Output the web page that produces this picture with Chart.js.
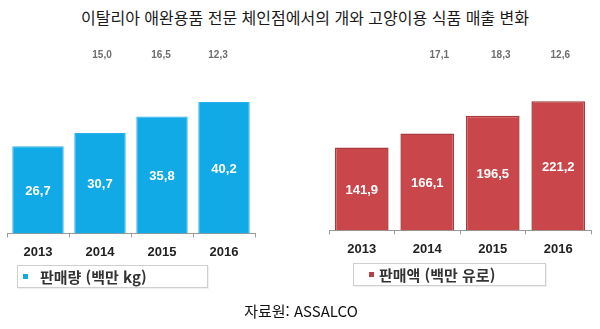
<!DOCTYPE html>
<html lang="ko">
<head>
<meta charset="utf-8">
<title>이탈리아 애완용품 전문 체인점에서의 개와 고양이용 식품 매출 변화</title>
<script src="https://cdn.jsdelivr.net/npm/chart.js@4/dist/chart.umd.min.js"></script>
<style>
  html, body { margin: 0; padding: 0; background: #fff; }
  #page { position: relative; width: 600px; height: 329px; overflow: hidden; background: #fff; }
  .title {
    position: absolute; left: 0; top: 6px; width: 610px; text-align: center;
    font: 16px "Noto Sans CJK KR", "Noto Sans", sans-serif; color: #1a1a1a; line-height: 22px;
  }
  .source {
    position: absolute; left: 0; top: 300px; width: 602px; text-align: center;
    font: 15px "Noto Sans CJK KR", "Noto Sans", sans-serif; color: #111; line-height: 22px;
  }
  canvas { position: absolute; top: 0; }
  .legend {
    position: absolute; box-sizing: border-box; height: 23px;
    border: 1px solid #cfcfcf; background: #fff;
    box-shadow: 1px 1px 1px rgba(0,0,0,0.06);
    font: bold 15px "Noto Sans CJK KR", "Noto Sans", sans-serif; color: #333;
    line-height: 21px; white-space: nowrap;
  }
  .legend i {
    position: absolute; width: 5px; height: 5px; top: 8px;
  }
  .legend span { position: absolute; top: 0; }
</style>
</head>
<body>
<div id="page">
  <div class="title">이탈리아 애완용품 전문 체인점에서의 개와 고양이용 식품 매출 변화</div>
  <canvas id="volumeChart" width="300" height="329" style="left:0;width:300px;height:329px"></canvas>
  <canvas id="salesChart" width="300" height="329" style="left:300px;width:300px;height:329px"></canvas>
  <div class="legend" id="volumeLegend" style="left:17px;top:265px;width:191px;">
    <i style="left:5px;background:#11a9e4"></i><span style="left:22px"></span>
  </div>
  <div class="legend" id="salesLegend" style="left:353px;top:263px;width:193px;">
    <i style="left:15px;background:#b8404a"></i><span style="left:25px"></span>
  </div>
  <div class="source">자료원: ASSALCO</div>
</div>
<script>
// Years on the category axis
const years = ['2013', '2014', '2015', '2016'];

// Dog & cat food sold (million kg) and sales (million euro)
const volumeSeriesName = '판매량 (백만 kg)';
const volumeValues = [26.7, 30.7, 35.8, 40.2];
const salesSeriesName = '판매액 (백만 유로)';
const salesValues = [141.9, 166.1, 196.5, 221.2];

// Year-on-year growth (%) printed above 2014–2016
const volumeGrowth = [15.0, 16.5, 12.3];
const salesGrowth = [17.1, 18.3, 12.6];

const FONT = '"Liberation Sans", Arial, sans-serif';
const fmt = v => v.toFixed(1).replace('.', ',');

// White value text in the middle of each bar
const barValueLabels = {
  id: 'barValueLabels',
  afterDatasetsDraw(chart) {
    const ctx = chart.ctx;
    const meta = chart.getDatasetMeta(0);
    const data = chart.data.datasets[0].data;
    ctx.save();
    ctx.font = 'bold 13px ' + FONT;
    ctx.fillStyle = '#ffffff';
    ctx.textAlign = 'center';
    ctx.textBaseline = 'middle';
    meta.data.forEach((bar, i) => {
      ctx.fillText(fmt(data[i]), bar.x, (bar.y + bar.base) / 2 + 1.5);
    });
    ctx.restore();
  }
};

// Growth rates in a row above the bars, starting from the second year
const growthLabels = {
  id: 'growthLabels',
  afterDraw(chart, args, opts) {
    const ctx = chart.ctx;
    const xScale = chart.scales.x;
    ctx.save();
    ctx.font = 'bold 10px ' + FONT;
    ctx.fillStyle = '#6e6e6e';
    ctx.textAlign = 'center';
    ctx.textBaseline = 'middle';
    opts.values.forEach((g, i) => {
      const x = xScale.getPixelForValue(i + 1) + (opts.dx[i] || 0);
      ctx.fillText(fmt(g), x, opts.y);
    });
    ctx.restore();
  }
};

function makeChart(canvasId, label, values, growth, cfg) {
  return new Chart(document.getElementById(canvasId), {
    type: 'bar',
    data: {
      labels: years,
      datasets: [{
        label: label,
        data: values,
        backgroundColor: cfg.fill,
        borderColor: cfg.border,
        borderWidth: cfg.borderWidth,
        borderSkipped: 'bottom',
        categoryPercentage: 1,
        barPercentage: cfg.barPct
      }]
    },
    options: {
      responsive: false,
      animation: false,
      events: [],
      layout: { padding: cfg.padding },
      plugins: {
        legend: { display: false },
        tooltip: { enabled: false },
        growthLabels: { values: growth, y: 55, dx: cfg.growthDx }
      },
      scales: {
        x: {
          offset: true,
          grid: {
            offset: true,
            display: true,
            drawOnChartArea: false,
            drawTicks: true,
            tickLength: 4,
            color: '#9a9a9a'
          },
          border: { display: true, color: '#9a9a9a', width: 1 },
          ticks: {
            color: '#222',
            padding: 7,
            font: { family: FONT, size: 13, weight: 'bold' }
          }
        },
        y: {
          display: false,
          min: 0,
          max: cfg.yMax
        }
      }
    },
    plugins: [barValueLabels, growthLabels]
  });
}

makeChart('volumeChart', volumeSeriesName, volumeValues, volumeGrowth, {
  fill: '#11a9e6',
  border: '#2ab3ea',
  borderWidth: 1,
  barPct: 0.83,
  yMax: 50,
  growthDx: [2, -1, -6],
  padding: { left: 7, right: 45, top: 70, bottom: 62 }
});

makeChart('salesChart', salesSeriesName, salesValues, salesGrowth, {
  fill: '#c9474a',
  border: '#a93a3d',
  borderWidth: 1.5,
  barPct: 0.82,
  yMax: 280,
  growthDx: [12, 8, 2],
  padding: { left: 29, right: 9, top: 67, bottom: 65 }
});

document.querySelector('#volumeLegend span').textContent = volumeSeriesName;
document.querySelector('#salesLegend span').textContent = salesSeriesName;
</script>
</body>
</html>
